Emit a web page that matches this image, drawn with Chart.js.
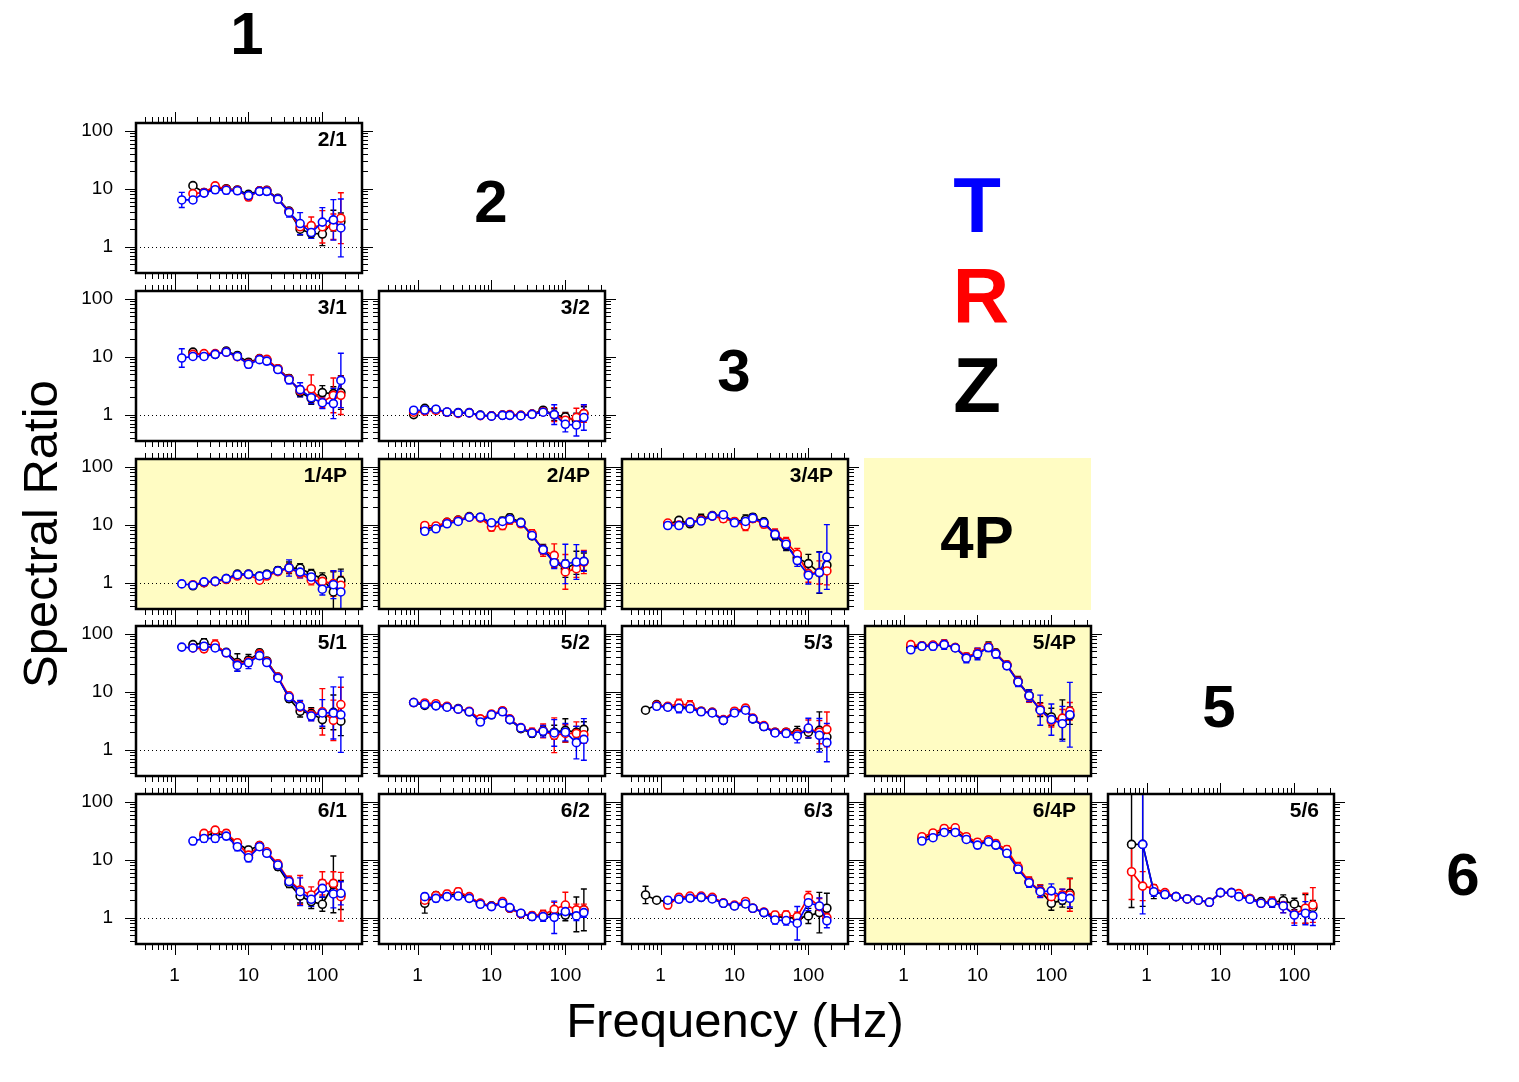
<!DOCTYPE html>
<html>
<head>
<meta charset="utf-8">
<script src="https://cdn.jsdelivr.net/npm/chart.js@4.4.1/dist/chart.umd.min.js"></script>
<style>
body { margin: 0; background: #fff; width: 1519px; height: 1082px; position: relative; overflow: hidden;
       font-family: "Liberation Sans", Arial, Helvetica, sans-serif; }
canvas { position: absolute; }
.txt { position: absolute; line-height: 1; white-space: nowrap; transform: translate(-50%, -50%); }
.big { font-weight: bold; font-size: 60px; }
.lbl { position: absolute; line-height: 1; white-space: nowrap; font-weight: bold; font-size: 21px; transform: translateX(-100%); }
</style>
</head>
<body>

<div class="txt big" style="left:247px;top:34px">1</div>
<div class="txt big" style="left:491px;top:202px">2</div>
<div class="txt big" style="left:734px;top:371px">3</div>
<div class="txt big" style="left:1219px;top:707px">5</div>
<div class="txt big" style="left:1463px;top:875px">6</div>

<div class="txt" style="left:977px;top:205px;font-size:78px;font-weight:bold;color:#0000ff">T</div>
<div class="txt" style="left:981px;top:295px;font-size:78px;font-weight:bold;color:#ff0000">R</div>
<div class="txt" style="left:977px;top:385px;font-size:78px;font-weight:bold;color:#000">Z</div>

<div style="position:absolute;left:864px;top:458px;width:227px;height:152px;background:#fffcc3"></div>
<div class="txt big" style="left:977px;top:538px">4P</div>

<div class="txt" style="left:40px;top:534px;font-size:49px;transform:translate(-50%,-50%) rotate(-90deg)">Spectral Ratio</div>
<div class="txt" style="left:735px;top:1020px;font-size:49px">Frequency (Hz)</div>

<script>
// frequencies (Hz)
const F = [0.625, 0.884, 1.25, 1.77, 2.5, 3.54, 5, 7.07, 10, 14.1, 17.7, 25, 35.4, 50, 70.7, 100, 141, 178];

// spectral ratios: T (blue), R (red), Z (black); e* = error half-width in log10 units
const p21T = [null,null,6.4,6.4,8.4,9.6,9.4,9.2,7.6,9.0,9.0,6.6,3.9,2.5,1.75,2.65,2.9,2.1];
const p21R = [null,null,null,8.2,8.6,11.2,9.8,9.4,7.2,9.2,9.3,6.6,4.0,2.2,2.3,2.2,2.2,3.1];
const p21Z = [null,null,null,11.3,8.6,10.0,10.0,9.5,8.0,9.2,9.4,6.8,4.1,2.0,1.7,1.65,2.8,2.7];
const e21T = [0,0,0.13,0.05,0.05,0.06,0.06,0.05,0.06,0.05,0.06,0.06,0.08,0.19,0.10,0.25,0.35,0.50];
const e21R = [0,0,0,0.05,0.05,0.04,0.05,0.05,0.06,0.05,0.05,0.05,0.06,0.08,0.15,0.28,0.22,0.44];
const e21Z = [0,0,0,0.03,0.05,0.05,0.05,0.05,0.05,0.05,0.05,0.05,0.06,0.10,0.08,0.20,0.18,0.15];

const p31T = [null,null,9.5,10.1,10.1,11,12,10.1,7.4,8.9,8.4,6.0,4.0,2.7,1.96,1.6,1.55,3.9];
const p31R = [null,null,null,11,11.3,11.3,12,10,7.6,9.2,9.0,6.2,4.1,2.6,2.8,1.65,2.15,2.15];
const p31Z = [null,null,null,12,10.5,11,12.5,10.5,8.0,9.3,8.8,6.2,4.2,2.45,1.9,2.4,2.3,2.4];
const e31T = [0,0,0.16,0.05,0.05,0.05,0.06,0.05,0.06,0.05,0.06,0.05,0.07,0.12,0.10,0.10,0.26,0.47];
const e31R = [0,0,0,0.05,0.05,0.05,0.05,0.05,0.05,0.05,0.05,0.05,0.06,0.08,0.24,0.10,0.30,0.33];
const e31Z = [0,0,0,0.04,0.05,0.05,0.05,0.05,0.06,0.05,0.05,0.05,0.06,0.08,0.10,0.12,0.12,0.29];

const p32T = [null,1.19,1.2,1.24,1.11,1.07,1.07,0.97,0.94,0.97,0.97,0.95,1.01,1.1,1.0,0.68,0.66,0.89];
const p32R = [null,1.1,1.15,1.18,1.1,1.05,1.07,0.96,0.95,0.98,1.0,0.97,1.02,1.12,1.0,0.8,0.89,1.04];
const p32Z = [null,1.0,1.28,1.22,1.1,1.08,1.08,0.98,0.95,0.98,0.98,0.97,1.02,1.19,1.0,0.91,0.8,1.04];
const e32T = [0,0.03,0.03,0.03,0.03,0.03,0.03,0.03,0.03,0.03,0.03,0.03,0.04,0.05,0.17,0.13,0.19,0.22];
const e32R = [0,0.03,0.03,0.03,0.03,0.03,0.03,0.03,0.03,0.03,0.03,0.03,0.04,0.05,0.12,0.12,0.16,0.15];
const e32Z = [0,0.03,0.03,0.03,0.03,0.03,0.03,0.03,0.03,0.03,0.03,0.03,0.04,0.05,0.10,0.08,0.12,0.12];

const p14T = [null,null,0.95,0.9,1.03,1.05,1.17,1.37,1.39,1.29,1.37,1.59,1.79,1.52,1.25,0.77,0.92,0.69];
const p14R = [null,null,null,0.92,1.0,1.04,1.13,1.3,1.38,1.1,1.3,1.55,1.77,1.45,1.1,1.05,0.96,0.9];
const p14Z = [null,null,null,0.88,1.0,1.05,1.17,1.4,1.4,1.3,1.4,1.62,1.8,1.77,1.41,1.17,0.69,1.08];
const e14T = [0,0,0.02,0.03,0.03,0.03,0.03,0.05,0.05,0.06,0.05,0.06,0.14,0.10,0.10,0.10,0.24,0.36];
const e14R = [0,0,0,0.03,0.03,0.03,0.03,0.04,0.04,0.05,0.05,0.05,0.08,0.08,0.08,0.10,0.22,0.15];
const e14Z = [0,0,0,0.03,0.03,0.03,0.03,0.04,0.04,0.05,0.05,0.06,0.10,0.08,0.08,0.10,0.35,0.20];

const p24T = [null,null,7.7,8.5,10.4,11.4,13.5,13.5,10.8,11.4,12.4,10.8,6.5,3.7,2.2,2.1,2.27,2.33];
const p24R = [null,null,9.7,9.5,11,11.9,13.5,13,9.1,9.7,12,10.4,7.0,3.6,2.95,1.53,1.74,2.27];
const p24Z = [null,null,8.6,9.0,11,12,13.8,13.5,10.5,11.5,13.2,11,6.4,3.8,2.3,1.74,2.2,2.3];
const e24T = [0,0,0.04,0.04,0.05,0.05,0.04,0.04,0.05,0.05,0.05,0.05,0.06,0.08,0.10,0.34,0.30,0.17];
const e24R = [0,0,0.05,0.05,0.05,0.05,0.04,0.04,0.07,0.07,0.07,0.06,0.07,0.10,0.20,0.30,0.15,0.20];
const e24Z = [0,0,0.04,0.04,0.04,0.04,0.04,0.04,0.05,0.07,0.06,0.05,0.06,0.08,0.10,0.15,0.20,0.15];

const p34T = [null,null,9.7,9.7,11.1,11.6,14.1,14.9,10.8,11.4,13,10.8,6.8,4.6,2.4,1.34,1.49,2.77];
const p34R = [null,null,10.7,9.9,11.1,12,14.1,12.7,11.4,9.5,12.7,10.2,7.0,5.0,3.1,1.43,1.5,1.59];
const p34Z = [null,null,10.2,11.9,10.4,12.6,14.4,14.5,11.2,12.3,13.5,11.2,6.6,4.4,2.66,2.13,1.49,2.0];
const e34T = [0,0,0.03,0.03,0.04,0.05,0.05,0.05,0.05,0.05,0.06,0.06,0.07,0.09,0.10,0.15,0.35,0.56];
const e34R = [0,0,0.03,0.03,0.04,0.05,0.05,0.06,0.05,0.08,0.06,0.06,0.08,0.08,0.10,0.15,0.20,0.24];
const e34Z = [0,0,0.03,0.03,0.05,0.08,0.05,0.05,0.05,0.08,0.06,0.06,0.08,0.09,0.10,0.16,0.36,0.12];

const p51T = [null,null,59,57,61,57,47,28.5,31.6,42,32,17.2,8.1,5.6,3.8,4.3,4.3,4.0];
const p51R = [null,null,null,57,55,65,47,30,33,45,33,18,8.5,5.4,4.0,4.5,3.2,6.0];
const p51Z = [null,null,null,65,70,61,48,32,35,47,34,18,7.6,4.6,4.2,3.3,4.4,3.1];
const e51T = [0,0,0.04,0.04,0.05,0.05,0.04,0.10,0.10,0.06,0.05,0.05,0.05,0.10,0.08,0.23,0.45,0.65];
const e51R = [0,0,0,0.04,0.06,0.08,0.05,0.07,0.07,0.05,0.05,0.05,0.06,0.10,0.10,0.40,0.35,0.30];
const e51Z = [0,0,0,0.05,0.07,0.06,0.05,0.15,0.10,0.06,0.05,0.05,0.06,0.10,0.10,0.15,0.30,0.25];

const p52T = [null,6.5,6.0,5.7,5.4,5.0,4.5,3.0,4.0,4.5,3.3,2.37,1.94,2.07,1.94,2.0,1.32,1.5];
const p52R = [null,6.5,6.4,6.2,5.6,5.0,4.6,3.4,4.1,4.7,3.4,2.4,2.0,2.1,1.77,1.9,1.9,1.81];
const p52Z = [null,6.5,5.8,5.8,5.5,5.1,4.5,3.1,4.0,4.6,3.3,2.3,1.9,2.1,2.0,2.15,2.0,2.24];
const e52T = [0,0.03,0.04,0.04,0.04,0.04,0.04,0.05,0.05,0.05,0.05,0.05,0.06,0.10,0.23,0.15,0.28,0.36];
const e52R = [0,0.03,0.04,0.05,0.04,0.04,0.04,0.05,0.05,0.05,0.05,0.05,0.07,0.12,0.30,0.15,0.20,0.15];
const e52Z = [0,0.03,0.04,0.04,0.04,0.04,0.04,0.05,0.05,0.05,0.05,0.05,0.06,0.08,0.12,0.20,0.10,0.13];

const p53T = [null,5.6,5.4,5.2,5.1,4.5,4.3,3.2,4.3,4.8,3.4,2.5,1.94,1.9,1.72,2.36,1.77,1.32];
const p53R = [null,5.8,5.6,6.2,5.8,4.6,4.4,3.3,4.6,5.2,3.5,2.6,2.0,2.0,1.85,2.3,2.0,2.24];
const p53Z = [4.8,6.0,5.5,5.5,5.3,4.6,4.4,3.2,4.5,5.0,3.4,2.5,2.0,2.0,2.0,2.0,2.15,1.65];
const e53T = [0,0.05,0.05,0.08,0.06,0.05,0.05,0.05,0.05,0.05,0.05,0.05,0.06,0.06,0.12,0.17,0.29,0.33];
const e53R = [0,0.05,0.05,0.08,0.08,0.05,0.05,0.05,0.05,0.05,0.05,0.05,0.06,0.06,0.08,0.15,0.20,0.30];
const e53Z = [0.03,0.05,0.05,0.06,0.06,0.05,0.05,0.05,0.05,0.05,0.05,0.05,0.06,0.06,0.10,0.10,0.32,0.12];

const p54T = [null,null,53,61,61,65,57,38,45,58,45,28,14.7,8.5,4.8,3.3,2.8,4.0];
const p54R = [null,null,65,62,64,67,58,40,47,60,46,29,15,8.3,5.0,3.1,3.5,4.6];
const p54Z = [null,null,58,62,63,66,58,39,46,60,47,29,15.2,8.6,4.9,3.66,3.3,3.85];
const e54T = [0,0,0.03,0.04,0.06,0.08,0.05,0.08,0.10,0.07,0.07,0.06,0.08,0.10,0.26,0.27,0.30,0.56];
const e54R = [0,0,0.03,0.04,0.06,0.06,0.05,0.06,0.08,0.06,0.06,0.06,0.08,0.10,0.10,0.10,0.15,0.15];
const e54Z = [0,0,0.03,0.04,0.05,0.06,0.05,0.07,0.08,0.08,0.06,0.06,0.08,0.10,0.12,0.15,0.34,0.15];

const p61T = [null,null,null,21,23.3,23.3,25.6,16.8,10.8,16.8,12.9,8.1,4.2,2.8,2.07,3.2,2.56,2.63];
const p61R = [null,null,null,null,28.5,32.5,28.5,19.6,12,17.5,13.7,8.5,4.4,3.0,2.46,3.9,3.9,2.3];
const p61Z = [null,null,null,null,26.6,28,27,19,14.7,17.5,13.3,7.6,3.9,2.36,1.89,1.7,3.76,2.46];
const e61T = [0,0,0,0.06,0.06,0.06,0.06,0.07,0.07,0.05,0.05,0.06,0.07,0.24,0.12,0.15,0.24,0.20];
const e61R = [0,0,0,0,0.05,0.05,0.06,0.06,0.06,0.05,0.05,0.06,0.07,0.25,0.14,0.20,0.20,0.42];
const e61Z = [0,0,0,0,0.05,0.05,0.06,0.06,0.06,0.05,0.05,0.06,0.07,0.12,0.12,0.12,0.49,0.25];

const p62T = [null,null,2.3,2.15,2.3,2.36,2.15,1.7,1.55,1.77,1.49,1.19,1.04,1.04,1.01,1.27,1.07,1.22];
const p62R = [null,null,2.0,2.4,2.56,2.8,2.3,1.78,1.58,1.89,1.45,1.16,1.08,1.12,1.39,1.65,1.36,1.36];
const p62Z = [null,null,1.77,2.4,2.4,2.56,2.2,1.75,1.6,1.8,1.45,1.17,1.06,1.1,1.16,1.11,1.14,1.36];
const e62T = [0,0,0.05,0.06,0.05,0.05,0.04,0.04,0.04,0.04,0.04,0.05,0.06,0.08,0.28,0.12,0.08,0.08];
const e62R = [0,0,0.05,0.05,0.06,0.06,0.05,0.04,0.04,0.04,0.04,0.05,0.06,0.08,0.12,0.22,0.10,0.10];
const e62Z = [0,0,0.17,0.06,0.05,0.05,0.04,0.04,0.04,0.04,0.04,0.05,0.06,0.08,0.10,0.10,0.30,0.36];

const p63T = [null,null,2.0,2.07,2.15,2.24,2.1,1.77,1.59,1.72,1.45,1.22,0.91,0.89,0.8,1.81,1.59,0.88];
const p63R = [null,null,1.65,2.24,2.36,2.36,2.24,1.8,1.65,1.9,1.45,1.25,1.11,1.11,1.04,2.24,1.55,1.0];
const p63Z = [2.46,2.0,1.89,2.15,2.2,2.24,2.15,1.77,1.6,1.75,1.45,1.22,1.04,1.01,0.97,1.07,1.22,1.45];
const e63T = [0,0,0.05,0.05,0.05,0.04,0.04,0.04,0.04,0.04,0.04,0.05,0.07,0.08,0.29,0.14,0.14,0.12];
const e63R = [0,0,0.06,0.06,0.05,0.04,0.04,0.04,0.04,0.04,0.04,0.05,0.06,0.07,0.08,0.10,0.14,0.10];
const e63Z = [0.15,0.03,0.05,0.06,0.06,0.04,0.04,0.04,0.04,0.04,0.04,0.05,0.06,0.08,0.08,0.13,0.35,0.26];

const p64T = [null,null,null,21,24,29.6,29.6,22.4,17.9,20.4,17.9,12.9,6.9,4.0,2.8,2.9,2.3,2.15];
const p64R = [null,null,null,25,29,34.7,35.6,25,20,22,19,15,7.5,4.2,2.9,2.3,2.46,2.46];
const p64Z = [null,null,null,23,27,32,31,23,19,21,18,13.5,7.0,4.1,2.9,1.77,2.0,2.63];
const e64T = [0,0,0,0.04,0.05,0.05,0.05,0.05,0.06,0.05,0.06,0.06,0.07,0.08,0.10,0.12,0.13,0.15];
const e64R = [0,0,0,0.04,0.05,0.05,0.05,0.05,0.06,0.05,0.06,0.06,0.08,0.08,0.10,0.10,0.10,0.28];
const e64Z = [0,0,0,0.04,0.05,0.05,0.05,0.05,0.06,0.05,0.06,0.06,0.07,0.08,0.10,0.12,0.12,0.26];

const p56T = [null,18.4,2.8,2.5,2.3,2.1,2.0,1.84,2.7,2.7,2.3,2.07,1.77,1.81,1.59,1.11,1.19,1.08];
const p56R = [6.2,3.5,3.2,2.7,2.3,2.1,2.0,1.84,2.7,2.7,2.6,2.13,1.77,1.9,1.61,1.14,1.45,1.65];
const p56Z = [18.4,18.4,2.8,2.5,2.3,2.1,2.0,1.84,2.7,2.7,2.36,2.13,1.89,1.81,1.96,1.72,1.41,1.5];
const e56T = [0,1.2,0.08,0.05,0.04,0.03,0.03,0.03,0.03,0.03,0.04,0.04,0.05,0.08,0.12,0.18,0.20,0.17];
const e56R = [0.48,0.25,0.06,0.05,0.04,0.03,0.03,0.03,0.03,0.03,0.04,0.04,0.05,0.08,0.12,0.15,0.26,0.30];
const e56Z = [1.09,1.07,0.12,0.06,0.04,0.03,0.03,0.03,0.03,0.03,0.04,0.04,0.05,0.08,0.10,0.10,0.25,0.12];

const panels = [
  { name: '2/1',  row: 0, col: 0, T: p21T, R: p21R, Z: p21Z, eT: e21T, eR: e21R, eZ: e21Z },
  { name: '3/1',  row: 1, col: 0, T: p31T, R: p31R, Z: p31Z, eT: e31T, eR: e31R, eZ: e31Z },
  { name: '3/2',  row: 1, col: 1, T: p32T, R: p32R, Z: p32Z, eT: e32T, eR: e32R, eZ: e32Z },
  { name: '1/4P', row: 2, col: 0, T: p14T, R: p14R, Z: p14Z, eT: e14T, eR: e14R, eZ: e14Z, hi: true },
  { name: '2/4P', row: 2, col: 1, T: p24T, R: p24R, Z: p24Z, eT: e24T, eR: e24R, eZ: e24Z, hi: true },
  { name: '3/4P', row: 2, col: 2, T: p34T, R: p34R, Z: p34Z, eT: e34T, eR: e34R, eZ: e34Z, hi: true },
  { name: '5/1',  row: 3, col: 0, T: p51T, R: p51R, Z: p51Z, eT: e51T, eR: e51R, eZ: e51Z },
  { name: '5/2',  row: 3, col: 1, T: p52T, R: p52R, Z: p52Z, eT: e52T, eR: e52R, eZ: e52Z },
  { name: '5/3',  row: 3, col: 2, T: p53T, R: p53R, Z: p53Z, eT: e53T, eR: e53R, eZ: e53Z },
  { name: '5/4P', row: 3, col: 3, T: p54T, R: p54R, Z: p54Z, eT: e54T, eR: e54R, eZ: e54Z, hi: true },
  { name: '6/1',  row: 4, col: 0, T: p61T, R: p61R, Z: p61Z, eT: e61T, eR: e61R, eZ: e61Z },
  { name: '6/2',  row: 4, col: 1, T: p62T, R: p62R, Z: p62Z, eT: e62T, eR: e62R, eZ: e62Z },
  { name: '6/3',  row: 4, col: 2, T: p63T, R: p63R, Z: p63Z, eT: e63T, eR: e63R, eZ: e63Z },
  { name: '6/4P', row: 4, col: 3, T: p64T, R: p64R, Z: p64Z, eT: e64T, eR: e64R, eZ: e64Z, hi: true },
  { name: '5/6',  row: 4, col: 4, T: p56T, R: p56R, Z: p56Z, eT: e56T, eR: e56R, eZ: e56Z }
];

const X_MIN = 0.303, X_MAX = 344, Y_MIN = 0.35, Y_MAX = 136.6;
const BOX_W = 226, BOX_H = 150;
const PAD_L = 70, PAD_R = 24, PAD_T = 24, PAD_B = 48;
const FONT = '"Liberation Sans", Arial, Helvetica, sans-serif';

// background, dotted unity line, error bars, frame and outside ticks
function panelPlugin(hi) {
  return {
    id: 'panel',
    beforeDraw(c) {
      if (!hi) return;
      const a = c.chartArea, g = c.ctx;
      g.save();
      g.fillStyle = '#fffcc3';
      g.fillRect(a.left, a.top, a.right - a.left, a.bottom - a.top);
      g.restore();
    },
    beforeDatasetsDraw(c) {
      const a = c.chartArea, g = c.ctx, xs = c.scales.x, ys = c.scales.y;
      g.save();
      g.beginPath();
      g.rect(a.left, a.top, a.right - a.left, a.bottom - a.top);
      g.clip();
      const y1 = Math.round(ys.getPixelForValue(1)) + 0.5;
      g.strokeStyle = '#000';
      g.lineWidth = 1;
      g.setLineDash([1, 3]);
      g.beginPath();
      g.moveTo(a.left, y1);
      g.lineTo(a.right, y1);
      g.stroke();
      g.setLineDash([]);
      for (let i = c.data.datasets.length - 1; i >= 0; i--) {
        const ds = c.data.datasets[i];
        g.strokeStyle = ds.borderColor;
        g.lineWidth = 1.4;
        ds.data.forEach((d, j) => {
          const e = ds.err[j];
          if (!e) return;
          const px = xs.getPixelForValue(d.x);
          const top = ys.getPixelForValue(d.y * Math.pow(10, e));
          const bot = ys.getPixelForValue(d.y / Math.pow(10, e));
          g.beginPath();
          g.moveTo(px, top); g.lineTo(px, bot);
          g.moveTo(px - 3, top); g.lineTo(px + 3, top);
          g.moveTo(px - 3, bot); g.lineTo(px + 3, bot);
          g.stroke();
        });
      }
      g.restore();
    },
    afterDraw(c) {
      const a = c.chartArea, g = c.ctx, xs = c.scales.x, ys = c.scales.y;
      g.save();
      g.strokeStyle = '#000';
      g.lineWidth = 1;
      for (let e = -1; e <= 2; e++) {
        for (let m = 1; m <= 9; m++) {
          const v = m * Math.pow(10, e);
          const len = m === 1 ? 11 : 6;
          if (v >= X_MIN && v <= X_MAX) {
            const px = Math.round(xs.getPixelForValue(v)) + 0.5;
            g.beginPath();
            g.moveTo(px, a.bottom); g.lineTo(px, a.bottom + len);
            g.moveTo(px, a.top); g.lineTo(px, a.top - len);
            g.stroke();
          }
          if (v >= Y_MIN && v <= Y_MAX) {
            const py = Math.round(ys.getPixelForValue(v)) + 0.5;
            g.beginPath();
            g.moveTo(a.left, py); g.lineTo(a.left - len, py);
            g.moveTo(a.right, py); g.lineTo(a.right + len, py);
            g.stroke();
          }
        }
      }
      g.lineWidth = 2.5;
      g.strokeRect(a.left, a.top, a.right - a.left, a.bottom - a.top);
      g.restore();
    }
  };
}

function series(vals, errs, color) {
  const data = [], err = [];
  F.forEach((f, i) => {
    if (vals[i] !== null) { data.push({ x: f, y: vals[i] }); err.push(errs[i]); }
  });
  return {
    data, err,
    borderColor: color,
    backgroundColor: '#fff',
    borderWidth: 1.7,
    pointRadius: 4,
    pointBorderWidth: 1.6,
    pointBackgroundColor: '#fff',
    pointBorderColor: color,
    tension: 0
  };
}

panels.forEach(p => {
  const left = Math.round(136 + 242.9 * p.col);
  const top = Math.round(123 + 167.8 * p.row);
  const cv = document.createElement('canvas');
  cv.width = BOX_W + PAD_L + PAD_R;
  cv.height = BOX_H + PAD_T + PAD_B;
  cv.style.left = (left - PAD_L) + 'px';
  cv.style.top = (top - PAD_T) + 'px';
  document.body.appendChild(cv);

  const lbl = document.createElement('div');
  lbl.className = 'lbl';
  lbl.textContent = p.name;
  lbl.style.left = (left + BOX_W - 15) + 'px';
  lbl.style.top = (top + 5) + 'px';
  document.body.appendChild(lbl);

  const decades = s => { s.ticks = [1, 10, 100].map(v => ({ value: v })); };
  const noGrid = { display: false, drawTicks: false, tickLength: 0 };

  new Chart(cv.getContext('2d'), {
    type: 'line',
    data: {
      datasets: [
        series(p.T, p.eT, '#0000ff'),
        series(p.R, p.eR, '#ff0000'),
        series(p.Z, p.eZ, '#000000')
      ]
    },
    options: {
      responsive: false,
      animation: false,
      devicePixelRatio: 1,
      layout: { padding: { top: PAD_T, right: PAD_R, left: 0, bottom: 0 } },
      plugins: { legend: { display: false }, tooltip: { enabled: false } },
      scales: {
        x: {
          type: 'logarithmic', position: 'bottom',
          min: X_MIN, max: X_MAX,
          grid: noGrid, border: { display: false },
          afterBuildTicks: decades,
          afterFit: s => { s.height = PAD_B; s.paddingLeft = 0; s.paddingRight = 0; },
          ticks: {
            display: p.row === 4, padding: 20, maxRotation: 0, autoSkip: false,
            color: '#000', font: { size: 19, family: FONT },
            callback: v => String(v)
          }
        },
        y: {
          type: 'logarithmic', position: 'left',
          min: Y_MIN, max: Y_MAX,
          grid: noGrid, border: { display: false },
          afterBuildTicks: decades,
          afterFit: s => { s.width = PAD_L; s.paddingTop = 0; s.paddingBottom = 0; },
          ticks: {
            display: p.col === 0, padding: 23, autoSkip: false,
            color: '#000', font: { size: 19, family: FONT },
            callback: v => String(v)
          }
        }
      }
    },
    plugins: [panelPlugin(p.hi)]
  });
});
</script>
</body>
</html>
